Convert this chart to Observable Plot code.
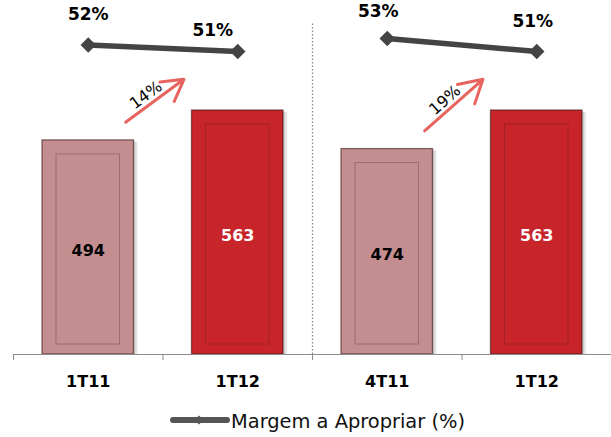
<!DOCTYPE html>
<html><head><meta charset="utf-8">
<script src="https://cdn.jsdelivr.net/npm/d3@7"></script>
<script src="https://cdn.jsdelivr.net/npm/@observablehq/plot@0.6"></script>
<style>
body{margin:0;background:#fff;width:611px;height:437px;overflow:hidden}
#chart svg{display:block}
</style>
</head><body>
<div id="chart"></div>
<script>
// ---- data ----
const categories = ["1T11", "1T12", "4T11", "1T12"];
const receita = [494, 563, 474, 563];
const margem = [52, 51, 53, 51];
const periodo = ["anterior", "atual", "anterior", "atual"];
const grupo = ["A", "A", "B", "B"];
const comparacoes = [[0, 1], [2, 3]];
const legendLabel = "Margem a Apropriar (%)";

const rows = categories.map((c, i) => ({i, c, receita: receita[i], margem: margem[i], periodo: periodo[i], grupo: grupo[i]}));

// ---- layout ----
const W = 611, H = 400, mB = 46, mL = 13;
const plotH = H - mB;                 // baseline pixel
const k = 0.4334;                     // px per unit of receita
const yMax = plotH / k;
const slot = (W - mL) / 4;
// margin (%) shares the y scale through a secondary linear mapping
const mU = d3.scaleLinear().domain([51, 53]).range([(plotH - 51) / k, (plotH - 38) / k]);

const arrows = comparacoes.map(([a, b]) => {
  const x1 = a + 0.75, y1 = receita[a] + 42, x2 = b + 0.14, y2 = receita[b] + 72;
  const t = 0.4;
  return {x1, y1, x2, y2,
    tx: x1 + t * (x2 - x1), ty: y1 + t * (y2 - y1),
    rot: Math.atan2(-(y2 - y1) * k, (x2 - x1) * slot) * 180 / Math.PI,
    g: Math.round((receita[b] / receita[a] - 1) * 100) + "%"};
});

const labelOffsets = [[0, -30], [-25, -21], [-9, -27], [-4, -30]];
const bx1 = d => d.i, bx2 = d => d.i + 1, cx = d => d.i + 0.5;

const chart = Plot.plot({
  width: W, height: H,
  marginTop: 0, marginBottom: mB, marginLeft: mL, marginRight: 0,
  x: {type: "linear", domain: [0, 4], axis: null},
  y: {domain: [0, yMax], axis: null},
  color: {domain: ["anterior", "atual"], range: ["#c48e91", "#c8252b"]},
  style: {fontFamily: "'DejaVu Sans', Verdana, sans-serif", fontSize: "16px", background: "#fff", overflow: "visible"},
  marks: [
    // shadow
    Plot.rectY(rows, {x1: bx1, x2: bx2, y: "receita", insetLeft: 32, insetRight: 25, insetTop: 2, fill: "#000", fillOpacity: 0.10}),
    Plot.rectY(rows, {x1: bx1, x2: bx2, y: "receita", insetLeft: 31, insetRight: 27, insetTop: 1, fill: "#000", fillOpacity: 0.10}),
    // bars
    Plot.rectY(rows, {x1: bx1, x2: bx2, y: "receita", insetLeft: 29, insetRight: 29, fill: "periodo",
      stroke: "#3a1414", strokeOpacity: 0.6, strokeWidth: 1.3, ariaLabel: "bars"}),
    // inner frame
    Plot.rectY(rows, {x1: bx1, x2: bx2, y: "receita", insetLeft: 43, insetRight: 43, insetTop: 14, insetBottom: 10,
      fill: "none", stroke: "#4a1a1a", strokeOpacity: 0.3, strokeWidth: 1}),
    // separator
    Plot.ruleX([2], {y1: 0, y2: (plotH - 22) / k, stroke: "#8a8a8a", strokeDasharray: "1.5 2", strokeWidth: 1.3}),
    // axis line + ticks
    Plot.ruleY([0], {stroke: "#8c8c8c", strokeWidth: 1.2}),
    Plot.axisX({ticks: [0, 1, 2, 3, 4], tickSize: 6, tickFormat: () => "", stroke: "#8c8c8c"}),
    Plot.axisX({ticks: [0.5, 1.5, 2.5, 3.5], tickSize: 0, tickPadding: 21, tickFormat: t => categories[Math.floor(t)],
      fontWeight: "bold", fontSize: 16, fill: "#000"}),
    // value labels
    Plot.text(rows, {filter: d => d.periodo === "anterior", x: cx, y: d => d.receita / 2, text: d => String(d.receita),
      fill: "#000", fontWeight: "bold", fontSize: 16, dy: 3}),
    Plot.text(rows, {filter: d => d.periodo === "atual", x: cx, y: d => d.receita / 2, text: d => String(d.receita),
      fill: "#fff", fontWeight: "bold", fontSize: 16, dy: 3}),
    // growth arrows
    Plot.arrow(arrows, {x1: "x1", y1: "y1", x2: "x2", y2: "y2", stroke: "#e4524b", strokeWidth: 3, headLength: 14, strokeOpacity: 0.9}),
    Plot.text(arrows, {x: "tx", y: "ty", text: "g", rotate: "rot", dx: -3, dy: -10, fontSize: 16, fill: "#000"}),
    // margin lines
    Plot.line(rows, {x: cx, y: d => mU(d.margem), z: "grupo", stroke: "#444", strokeWidth: 5.5}),
    Plot.dot(rows, {x: cx, y: d => mU(d.margem), symbol: "square", r: 6.2, rotate: 45, fill: "#444"}),
    ...labelOffsets.map(([dx, dy], j) =>
      Plot.text(rows, {filter: d => d.i === j, x: cx, y: d => mU(d.margem), text: d => d.margem + "%",
        dx, dy, fontWeight: "bold", fontSize: 17, fill: "#000"}))
  ]
});

// mottled texture on bars
const svg = d3.select(chart);
const defs = svg.insert("defs", ":first-child");
const f = defs.append("filter").attr("id", "tex").attr("x", 0).attr("y", 0).attr("width", 1).attr("height", 1);
f.append("feTurbulence").attr("type", "fractalNoise").attr("baseFrequency", 0.08).attr("numOctaves", 3).attr("seed", 7).attr("result", "n");
f.append("feColorMatrix").attr("in", "n").attr("type", "matrix")
  .attr("values", "0 0 0 0 0.25  0 0 0 0 0.02  0 0 0 0 0.04  1.8 0 0 0 -0.78").attr("result", "m");
f.append("feComposite").attr("in", "m").attr("in2", "SourceGraphic").attr("operator", "in").attr("result", "spots");
const mg = f.append("feMerge");
mg.append("feMergeNode").attr("in", "SourceGraphic");
mg.append("feMergeNode").attr("in", "spots");
svg.selectAll("g[aria-label='bars'] rect").attr("filter", "url(#tex)");

document.getElementById("chart").append(chart);

// legend
const leg = d3.select("#chart").append("svg").attr("width", W).attr("height", 437 - H).style("display", "block");
leg.append("line").attr("x1", 173).attr("x2", 227).attr("y1", 20).attr("y2", 20)
  .attr("stroke", "#555").attr("stroke-width", 6).attr("stroke-linecap", "round");
leg.append("path").attr("d", d3.symbol(d3.symbolSquare, 40)()).attr("transform", "translate(199,20) rotate(45)").attr("fill", "#555");
leg.append("text").attr("x", 231).attr("y", 28).attr("font-family", "'DejaVu Sans Condensed', 'DejaVu Sans', sans-serif")
  .attr("font-size", 19).attr("textLength", 234).attr("lengthAdjust", "spacingAndGlyphs").attr("fill", "#111").text(legendLabel);
</script>
</body></html>
